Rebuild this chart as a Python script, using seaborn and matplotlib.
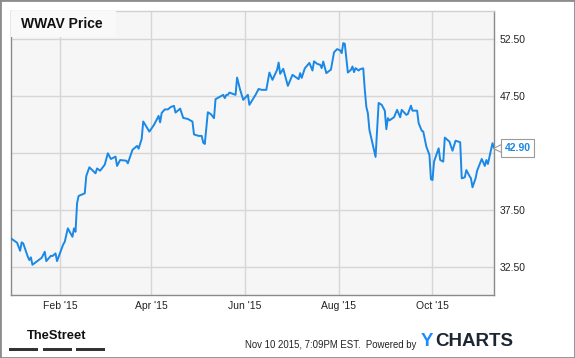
import matplotlib
matplotlib.use("Agg")
import matplotlib.pyplot as plt
import matplotlib.transforms as mtransforms
from matplotlib.patches import Rectangle
import pandas as pd
import seaborn as sns

# ---------------- data ----------------
title = "WWAV Price"
dates = [
    "2014-12-31", "2015-01-04", "2015-01-06", "2015-01-07", "2015-01-08", "2015-01-11",
    "2015-01-12", "2015-01-13", "2015-01-14", "2015-01-20", "2015-01-22", "2015-01-23",
    "2015-01-26", "2015-01-27", "2015-01-29", "2015-01-30", "2015-02-03", "2015-02-04",
    "2015-02-06", "2015-02-09", "2015-02-10", "2015-02-11", "2015-02-12", "2015-02-13",
    "2015-02-17", "2015-02-18", "2015-02-20", "2015-02-24", "2015-02-25", "2015-02-27",
    "2015-03-02", "2015-03-04", "2015-03-06", "2015-03-09", "2015-03-10", "2015-03-12",
    "2015-03-16", "2015-03-17", "2015-03-20", "2015-03-23", "2015-03-24", "2015-03-26",
    "2015-03-27", "2015-03-31", "2015-04-03", "2015-04-06", "2015-04-07", "2015-04-08",
    "2015-04-10", "2015-04-12", "2015-04-14", "2015-04-16", "2015-04-17", "2015-04-20",
    "2015-04-22", "2015-04-25", "2015-04-28", "2015-04-29", "2015-05-02", "2015-05-04",
    "2015-05-05", "2015-05-06", "2015-05-08", "2015-05-10", "2015-05-12", "2015-05-13",
    "2015-05-18", "2015-05-19", "2015-05-20", "2015-05-21", "2015-05-22", "2015-05-26",
    "2015-05-27", "2015-05-29", "2015-05-31", "2015-06-03", "2015-06-04", "2015-06-08",
    "2015-06-10", "2015-06-12", "2015-06-15", "2015-06-17", "2015-06-19", "2015-06-22",
    "2015-06-23", "2015-06-24", "2015-06-26", "2015-06-29", "2015-07-02", "2015-07-06",
    "2015-07-07", "2015-07-08", "2015-07-10", "2015-07-13", "2015-07-15", "2015-07-16",
    "2015-07-18", "2015-07-20", "2015-07-21", "2015-07-22", "2015-07-24", "2015-07-27",
    "2015-07-29", "2015-07-31", "2015-08-02", "2015-08-03", "2015-08-04", "2015-08-05",
    "2015-08-07", "2015-08-09", "2015-08-10", "2015-08-11", "2015-08-12", "2015-08-14",
    "2015-08-15", "2015-08-17", "2015-08-18", "2015-08-19", "2015-08-20", "2015-08-21",
    "2015-08-25", "2015-08-27", "2015-08-29", "2015-08-31", "2015-09-01", "2015-09-02",
    "2015-09-03", "2015-09-06", "2015-09-08", "2015-09-10", "2015-09-11", "2015-09-14",
    "2015-09-15", "2015-09-17", "2015-09-18", "2015-09-21", "2015-09-22", "2015-09-24",
    "2015-09-25", "2015-09-27", "2015-09-29", "2015-09-30", "2015-10-01", "2015-10-02",
    "2015-10-05", "2015-10-06", "2015-10-08", "2015-10-09", "2015-10-12", "2015-10-14",
    "2015-10-16", "2015-10-19", "2015-10-20", "2015-10-22", "2015-10-23", "2015-10-25",
    "2015-10-26", "2015-10-27", "2015-10-29", "2015-10-30", "2015-11-02", "2015-11-04",
    "2015-11-05", "2015-11-06", "2015-11-09", "2015-11-10",
]
prices = [
    34.98, 34.60, 33.89, 34.63, 34.54, 33.36,
    33.07, 33.31, 32.66, 33.27, 33.80, 32.98,
    33.45, 33.42, 33.66, 32.98, 34.45, 34.68,
    35.86, 35.12, 35.86, 35.56, 38.06, 38.71,
    38.94, 40.47, 41.23, 40.70, 41.13, 40.93,
    41.46, 42.46, 41.96, 42.17, 41.35, 41.87,
    41.81, 41.58, 42.76, 43.11, 42.87, 43.72,
    45.26, 44.37, 44.96, 45.75, 45.18, 46.01,
    46.32, 46.32, 46.54, 46.63, 46.04, 46.39,
    45.57, 45.48, 45.25, 44.12, 43.99, 43.99,
    43.40, 43.28, 46.07, 45.90, 45.55, 47.22,
    47.60, 47.31, 47.60, 47.60, 47.80, 47.60,
    49.12, 48.04, 47.16, 47.60, 46.72, 47.60,
    48.12, 48.04, 48.04, 49.56, 48.92, 49.80,
    50.44, 49.45, 49.89, 48.39, 49.36, 48.98,
    49.51, 49.09, 49.93, 50.41, 49.74, 50.55,
    50.33, 50.24, 49.95, 50.53, 49.51, 49.82,
    51.34, 51.62, 51.51, 51.27, 52.15, 52.09,
    49.56, 49.80, 50.09, 49.60, 49.95, 49.74,
    49.86, 49.93, 48.04, 46.54, 45.99, 44.52,
    42.14, 46.89, 46.72, 46.21, 44.58, 45.55,
    45.35, 45.63, 46.28, 45.63, 46.28, 45.84,
    45.92, 46.65, 46.21, 46.21, 45.11, 44.45,
    44.37, 43.05, 42.32, 40.18, 40.11, 41.73,
    42.90, 41.87, 41.73, 43.84, 43.49, 42.69,
    43.57, 43.43, 40.26, 40.35, 40.99, 40.47,
    40.26, 39.47, 40.26, 40.93, 41.96, 41.35,
    41.87, 41.52, 43.35, 42.90,
]
y_ticks = [32.5, 37.5, 42.5, 47.5, 52.5]
x_tick_dates = ["2015-02-01", "2015-04-01", "2015-06-01", "2015-08-01", "2015-10-01"]
x_tick_labels = ["Feb '15", "Apr '15", "Jun '15", "Aug '15", "Oct '15"]
footer_date = "Nov 10 2015, 7:09PM EST.  Powered by"

# ---------------- style ----------------
sns.set_theme(style="white")
plt.rcParams["font.family"] = ["Liberation Sans", "DejaVu Sans"]

W, H = 575, 358
LINE = "#1a88e6"
fig = plt.figure(figsize=(W / 100, H / 100), dpi=100)
fig.patch.set_facecolor("white")

L, R, T, B = 10.7, 494.3, 10.7, 295.0
ax = fig.add_axes([L / W, 1 - B / H, (R - L) / W, (B - T) / H])
ax.set_facecolor("#f6f6f6")

df = pd.DataFrame({"date": pd.to_datetime(dates), "price": prices})
sns.lineplot(data=df, x="date", y="price", ax=ax, color=LINE, linewidth=1.4, zorder=3)

ax.set_xlim(pd.Timestamp("2014-12-30 21:00"), pd.Timestamp("2015-11-10 04:00"))
ax.set_ylim(30, 55)
ax.set_xlabel("")
ax.set_ylabel("")

last = prices[-1]
ax.set_yticks(y_ticks)
# the tick label hidden behind the last-price box is left blank
ax.set_yticklabels(["" if abs(v - last) < 1.5 else f"{v:.2f}" for v in y_ticks])
ax.yaxis.tick_right()
ax.set_xticks(pd.to_datetime(x_tick_dates))
ax.set_xticklabels(x_tick_labels)
ax.tick_params(axis="both", length=0, labelsize=7.5, colors="#222222")
ax.tick_params(axis="y", pad=4)
ax.tick_params(axis="x", pad=4)

ax.grid(True, color="#d6d6d6", linewidth=1.0, zorder=0)
ax.set_axisbelow(True)
for side in ["left", "bottom", "right"]:
    ax.spines[side].set_color("#8a8a8a")
    ax.spines[side].set_linewidth(1.0)
ax.spines["top"].set_color("#d0d0d0")
ax.spines["top"].set_linewidth(1.0)

# title box
fig.patches.append(Rectangle((L / W, 1 - 37 / H), (116 - L) / W, (37 - T) / H,
                             transform=fig.transFigure, facecolor="#f9f9f9",
                             edgecolor="none", zorder=1))
fig.text(21 / W, 1 - 24.5 / H, title, fontsize=10, fontweight="bold",
         color="#111111", va="center", ha="left", zorder=2)

# last price label
blend = mtransforms.blended_transform_factory(fig.transFigure, ax.transData)
ax.plot([497.0 / W], [last], transform=blend, marker="<", markersize=6,
        markerfacecolor="white", markeredgecolor="#9a9a9a", markeredgewidth=0.8,
        clip_on=False, zorder=5)
ax.text(517.5 / W, last, f"{last:.2f}", transform=blend, fontsize=7.5,
        fontweight="bold", color=LINE, ha="center", va="center", zorder=6,
        bbox=dict(boxstyle="square,pad=0.38", facecolor="white",
                  edgecolor="#9a9a9a", linewidth=0.8))

# outer border
fig.patches.append(Rectangle((0, 0), 1, 1, transform=fig.transFigure, fill=False,
                             edgecolor="#8c8c8c", linewidth=2.0, zorder=10))

# footer: TheStreet logo
fig.text(57 / W, 1 - 336 / H, "TheStreet", fontsize=9.3, fontweight="bold",
         color="#111111", ha="center", va="center")
for x0, x1 in [(9, 38), (43, 72), (76, 105)]:
    fig.patches.append(Rectangle((x0 / W, 1 - 351 / H), (x1 - x0) / W, 3.2 / H,
                                 transform=fig.transFigure, facecolor="#333333",
                                 edgecolor="none"))

# footer: date + YCHARTS
fig.text(245 / W, 1 - 345 / H, footer_date, fontsize=6.9, color="#222222",
         ha="left", va="center")
fig.text(421 / W, 1 - 342 / H, "Y", fontsize=13.5, fontweight="bold",
         color="#1a8cff", ha="left", va="center")
fig.text(435 / W, 1 - 342 / H, "CHARTS", fontsize=13.5, fontweight="bold",
         color="#1c2633", ha="left", va="center")

fig.savefig("out.png", dpi=100)
